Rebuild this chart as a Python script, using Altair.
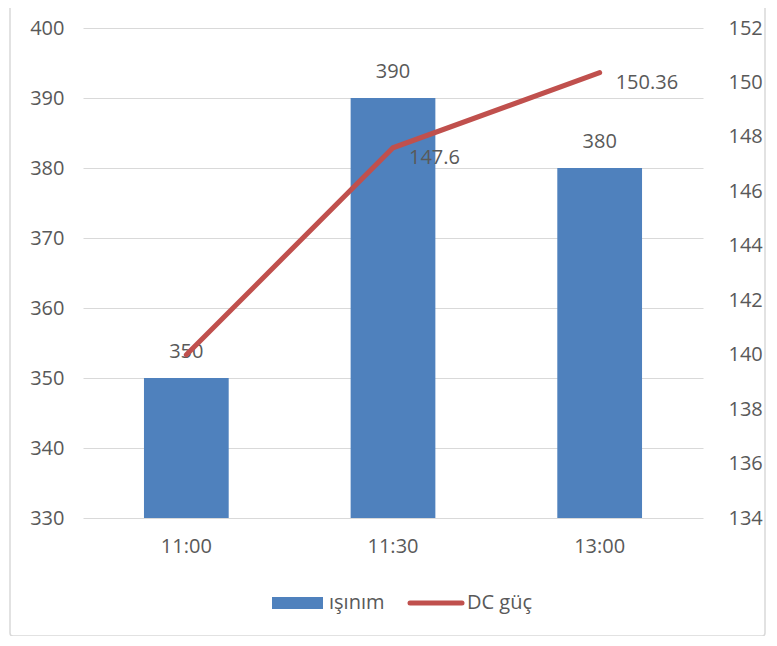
import altair as alt
import pandas as pd

times = ["11:00", "11:30", "13:00"]
isinim = [350, 390, 380]
dc_guc = [140.0, 147.6, 150.36]
dc_labels = ["", "147.6", "150.36"]

df = pd.DataFrame({"t": times, "isinim": isinim, "dc": dc_guc, "dclab": dc_labels})

FONT = "Open Sans"
TXT = "#595959"
BLUE = "#4F81BD"
RED = "#C0504D"
FS = 20

x = alt.X("t:N", sort=times, title=None,
          scale=alt.Scale(paddingInner=0.59, paddingOuter=0.295),
          axis=alt.Axis(labelAngle=0, labelFontSize=FS, labelColor=TXT, labelFont=FONT,
                        ticks=False, domain=False, labelPadding=18, grid=False))

yl = alt.Scale(domain=[330, 400], nice=False, zero=False)
yr = alt.Scale(domain=[134, 152], nice=False, zero=False)

left_axis = alt.Axis(values=list(range(330, 401, 10)), labelFontSize=FS, labelColor=TXT,
                     labelFont=FONT, ticks=False, domain=False, grid=True, gridColor="#D9D9D9",
                     labelPadding=19, title=None, orient="left")
right_axis = alt.Axis(values=list(range(134, 153, 2)), labelFontSize=FS, labelColor=TXT,
                      labelFont=FONT, ticks=False, domain=False, grid=False,
                      labelPadding=25, title=None, orient="right")

base = alt.Chart(df)

bars = base.mark_bar(color=BLUE).encode(
    x=x, y=alt.Y("isinim:Q", scale=yl, axis=left_axis), y2=alt.Y2(datum=330))
bar_text = base.mark_text(dy=-26, fontSize=FS, color=TXT, font=FONT).encode(
    x=x, y=alt.Y("isinim:Q", scale=yl, axis=left_axis), text="isinim:Q")

left = alt.layer(bars, bar_text)

line = base.mark_line(color=RED, strokeWidth=5, strokeCap="round").encode(
    x=x, y=alt.Y("dc:Q", scale=yr, axis=right_axis))
line_text = base.mark_text(align="left", dx=16, dy=10, fontSize=FS, color=TXT, font=FONT).encode(
    x=x, y=alt.Y("dc:Q", scale=yr, axis=right_axis), text="dclab:N")

right = alt.layer(line, line_text)

one = pd.DataFrame({"a": [0]})
frame = alt.Chart(one).mark_rect(
    fill="transparent", stroke="#D9D9D9", strokeWidth=1.5, cornerRadius=3, clip=False).encode(
    x=alt.value(-73), x2=alt.value(682), y=alt.value(-35), y2=alt.value(608))

leg_rect = alt.Chart(one).mark_rect(color=BLUE, clip=False).encode(
    x=alt.value(189), x2=alt.value(240), y=alt.value(569), y2=alt.value(581))
leg_t1 = alt.Chart(pd.DataFrame({"a": ["ışınım"]})).mark_text(
    align="left", baseline="middle", fontSize=FS, color=TXT, font=FONT).encode(
    x=alt.value(246), y=alt.value(575), text="a:N")
leg_line = alt.Chart(one).mark_rule(
    color=RED, strokeWidth=5, strokeCap="round").encode(
    x=alt.value(327), x2=alt.value(379), y=alt.value(575))
leg_t2 = alt.Chart(pd.DataFrame({"a": ["DC güç"]})).mark_text(
    align="left", baseline="middle", fontSize=FS, color=TXT, font=FONT).encode(
    x=alt.value(384), y=alt.value(575), text="a:N")

chart = alt.layer(frame, left, right, leg_rect, leg_t1, leg_line, leg_t2).resolve_scale(
    y="independent"
).properties(
    width=620, height=490,
    autosize=alt.AutoSizeParams(type="none"),
    padding={"left": 75, "top": 20, "right": 66, "bottom": 118},
    background="white",
).configure_view(stroke="transparent")

chart.save("out.html", embed_options={"renderer": "svg", "actions": False})
